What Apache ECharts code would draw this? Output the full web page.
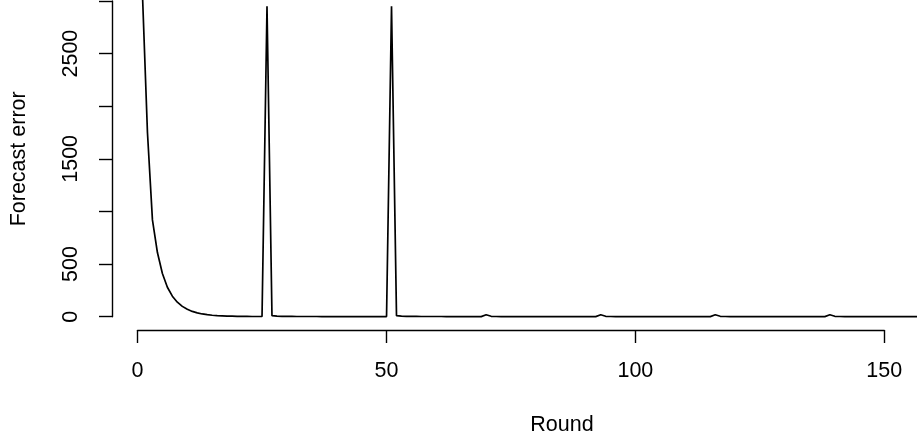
<!DOCTYPE html>
<html>
<head>
<meta charset="utf-8">
<script src="https://cdn.jsdelivr.net/npm/echarts@6/dist/echarts.min.js"></script>
<style>
html,body{margin:0;padding:0;background:#fff;}
#chart{width:917px;height:441px;}
</style>
</head>
<body>
<div id="chart"></div>
<script>
// Forecast error per round (rounds 1..160)
const rounds = [];
for (let i = 1; i <= 160; i++) rounds.push(i);
const errors = [
  3060, 1750, 920, 610, 410, 280, 195, 138, 98, 70,
  50, 36, 26, 19, 14, 10, 8, 6, 5, 4,
  3, 3, 2, 2, 2, 2950, 10, 6, 4, 3,
  3, 2, 2, 2, 2, 2, 1, 1, 1, 1,
  1, 1, 1, 1, 1, 1, 1, 1, 1, 1,
  2950, 10, 6, 4, 3, 3, 2, 2, 2, 2,
  2, 1, 1, 1, 1, 1, 1, 1, 1, 18,
  4, 2, 1, 1, 1, 1, 1, 1, 1, 1,
  1, 1, 1, 1, 1, 1, 1, 1, 1, 1,
  1, 1, 18, 4, 2, 1, 1, 1, 1, 1,
  1, 1, 1, 1, 1, 1, 1, 1, 1, 1,
  1, 1, 1, 1, 1, 18, 4, 2, 1, 1,
  1, 1, 1, 1, 1, 1, 1, 1, 1, 1,
  1, 1, 1, 1, 1, 1, 1, 1, 18, 4,
  2, 1, 1, 1, 1, 1, 1, 1, 1, 1,
  1, 1, 1, 1, 1, 1, 1, 1, 1, 1
];
const xTicks = [0, 50, 100, 150];
const yTicks = [0, 500, 1000, 1500, 2000, 2500, 3000];
const yTickLabels = [0, 500, 1500, 2500];
const xTitle = 'Round';
const yTitle = 'Forecast error';

const seriesData = rounds.map((r, i) => [r, errors[i]]);
const FONT = 'Liberation Sans, Arial, Helvetica, sans-serif';
const FS = 21.5;
const axisLineStyle = {color: '#000', width: 1.4};

const chart = echarts.init(document.getElementById('chart'), null, {renderer: 'canvas'});
chart.setOption({
  animation: false,
  backgroundColor: '#fff',
  grid: [
    {left: 111, right: 0, top: 0, bottom: 111},        // data (plot region)
    {left: 137.5, right: 32.7, top: 0, bottom: 111},   // x axis display
    {left: 111, right: 0, top: 1, bottom: 124.3},      // y axis display
    {left: 207, right: 0, top: 0, bottom: 111}         // x title holder
  ],
  xAxis: [
    {gridIndex: 0, type: 'value', min: -5.32, max: 156.5, show: false},
    {gridIndex: 1, type: 'value', min: 0, max: 150, interval: 50,
     axisLine: {show: true, lineStyle: axisLineStyle},
     axisTick: {show: true, inside: false, length: 13, lineStyle: axisLineStyle, customValues: xTicks},
     axisLabel: {show: true, margin: 30, color: '#000', fontSize: FS, fontFamily: FONT, customValues: xTicks,
                 formatter: v => String(v)},
     splitLine: {show: false}},
    {gridIndex: 2, type: 'value', min: 0, max: 1, show: false},
    {gridIndex: 3, type: 'value', min: 0, max: 1,
     axisLine: {show: false}, axisTick: {show: false}, axisLabel: {show: false}, splitLine: {show: false},
     name: xTitle, nameLocation: 'middle', nameGap: 86,
     nameTextStyle: {color: '#000', fontSize: FS, fontFamily: FONT}}
  ],
  yAxis: [
    {gridIndex: 0, type: 'value', min: -126.4, max: 3009.6, show: false},
    {gridIndex: 1, type: 'value', min: 0, max: 1, show: false},
    {gridIndex: 2, type: 'value', min: 0, max: 3000, interval: 500,
     axisLine: {show: true, lineStyle: axisLineStyle},
     axisTick: {show: true, inside: false, length: 13, lineStyle: axisLineStyle, customValues: yTicks},
     axisLabel: {show: true, rotate: 90, margin: 30, color: '#000', fontSize: FS, fontFamily: FONT, customValues: yTickLabels,
                 formatter: v => String(v)},
     splitLine: {show: false},
     name: yTitle, nameLocation: 'middle', nameGap: 82, nameRotate: 90,
     nameTextStyle: {color: '#000', fontSize: FS, fontFamily: FONT}},
    {gridIndex: 3, type: 'value', min: 0, max: 1, show: false}
  ],
  series: [{
    type: 'line',
    xAxisIndex: 0, yAxisIndex: 0,
    data: seriesData,
    showSymbol: false, symbol: 'none',
    clip: true,
    lineStyle: {color: '#000', width: 1.7},
    z: 3
  }]
});
</script>
</body>
</html>
